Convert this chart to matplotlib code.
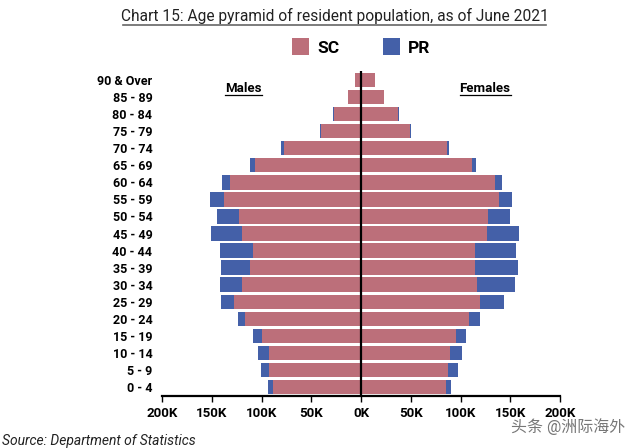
import matplotlib
matplotlib.use("Agg")
import matplotlib.pyplot as plt
from matplotlib.lines import Line2D
from matplotlib.patches import Patch

ages = ["0 - 4","5 - 9","10 - 14","15 - 19","20 - 24","25 - 29","30 - 34","35 - 39","40 - 44",
        "45 - 49","50 - 54","55 - 59","60 - 64","65 - 69","70 - 74","75 - 79","80 - 84","85 - 89","90 & Over"]
male_sc = [88,92,92,99,117,128,120,112,109,120,123,138,132,107,77,40,27,13,6]
male_pr = [5,9,12,10,7,13,22,29,33,31,22,14,8,5,3,1,1,0.5,0.5]
female_sc = [85,87,89,95,109,120,117,115,115,127,128,139,135,112,86,49,37,23,14]
female_pr = [5,10,13,11,11,24,38,43,41,32,22,13,7,4,2,1,1,0.5,0.5]
xticks = [-200,-150,-100,-50,0,50,100,150,200]
xlabels = ["200K","150K","100K","50K","0K","50K","100K","150K","200K"]
SC_COL, PR_COL = "#BC6F7A", "#4460A8"
W, H = 640, 448

plt.rcParams['font.family'] = ['Roboto', 'Noto Sans CJK SC', 'DejaVu Sans']
fig = plt.figure(figsize=(6.4, 4.48), dpi=100)
ax = fig.add_axes([162/W, 1-395.5/H, 398/W, 324/H])
y = list(range(len(ages)))
kw = dict(height=0.84, linewidth=0)
ax.barh(y, [-v for v in male_sc], color=SC_COL, **kw)
ax.barh(y, [-v for v in male_pr], left=[-v for v in male_sc], color=PR_COL, **kw)
ax.barh(y, female_sc, color=SC_COL, **kw)
ax.barh(y, female_pr, left=female_sc, color=PR_COL, **kw)
ax.axvline(0, color="black", lw=1.6, zorder=5)
ax.set_xlim(-200, 200)
ax.set_ylim(-0.5, 18.5)
ax.set_xticks(xticks, xlabels, fontsize=9.5, fontweight="bold")
ax.set_yticks(y, ages, fontsize=9, fontweight="bold")
ax.tick_params(axis="y", length=0, pad=7)
ax.tick_params(axis="x", length=4, width=1, color="black", pad=4)
for s in ("top", "left", "right"):
    ax.spines[s].set_visible(False)
ax.spines["bottom"].set_linewidth(1.6)

def px(x, yy):
    return x / W, 1 - yy / H

def rule(x0, x1, yy, color="black", lw=0.9):
    a = px(x0, yy); b = px(x1, yy)
    fig.add_artist(Line2D([a[0], b[0]], [a[1], b[1]], color=color, lw=lw))

fig.text(*px(334.5, 16), "Chart 15: Age pyramid of resident population, as of June 2021",
         ha="center", va="center", fontsize=11.2, color="#222222")
rule(123, 546, 25, color="#666666", lw=1.2)
fig.text(*px(243, 88), "Males", ha="center", va="center", fontsize=9.5, fontweight="bold")
rule(225, 262, 95)
fig.text(*px(485, 88), "Females", ha="center", va="center", fontsize=9.5, fontweight="bold")
rule(460, 511, 95)
fig.text(*px(2, 441), "Source: Department of Statistics", ha="left", va="center",
         fontsize=10, style="italic", color="#222222")
fig.text(*px(511, 427), "头条 @洲际海外", ha="left", va="center", fontsize=11.5, color="#777777")

fig.legend(handles=[Patch(facecolor=SC_COL, label="SC"),
                    Patch(facecolor=PR_COL, label="PR")],
           loc="center", bbox_to_anchor=px(361, 47), ncol=2, frameon=False,
           prop={"size": 12.5, "weight": "bold"}, handlelength=1.0, handleheight=1.15,
           handletextpad=0.45, columnspacing=2.5)
fig.savefig("out.png", dpi=100)
